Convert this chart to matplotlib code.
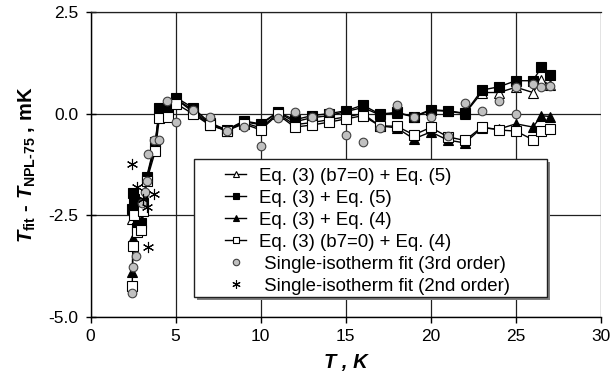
import matplotlib
matplotlib.use('Agg')
import matplotlib.pyplot as plt
from matplotlib.patches import Rectangle

plt.rcParams['font.family'] = ['Liberation Sans', 'DejaVu Sans']
plt.rcParams['mathtext.fontset'] = 'custom'
plt.rcParams['mathtext.rm'] = 'Liberation Sans:bold'
plt.rcParams['mathtext.it'] = 'Liberation Sans:bold:italic'
plt.rcParams['mathtext.bf'] = 'Liberation Sans:bold'

# Temperatures (K) for the four fitted-equation series
temps = [2.45, 2.5, 2.55, 2.75, 2.95, 3.1, 3.3, 3.8, 4.05, 4.55, 5.05,
         6, 7, 8, 9, 10, 11, 12, 13, 14, 15, 16, 17, 18, 19, 20, 21, 22,
         23, 24, 25, 26, 26.5, 27]

# Eq. (3) (b7=0) + Eq. (5)
eq3b_eq5 = [-2.6, -2.3, -2.0, -2.65, -2.6, -2.2, -1.6, -0.8, 0.1, 0.12, 0.35,
            0.1, -0.25, -0.4, -0.2, -0.27, 0.03, -0.2, -0.1, -0.05, 0.05, 0.15,
            -0.03, 0.02, -0.08, 0.08, 0.06, 0.0, 0.52, 0.52, 0.65, 0.52, 0.83, 0.7]
# Eq. (3) + Eq. (5)
eq3_eq5 = [-2.35, -1.95, -2.1, -2.8, -2.7, -2.2, -1.55, -0.7, 0.13, 0.11, 0.39,
           0.15, -0.22, -0.4, -0.18, -0.25, 0.04, -0.15, -0.05, 0.0, 0.07, 0.21,
           -0.01, 0.03, -0.07, 0.1, 0.07, 0.01, 0.58, 0.66, 0.81, 0.81, 1.14, 0.94]
# Eq. (3) + Eq. (4)
eq3_eq4 = [-3.9, -3.05, -2.4, -2.85, -2.75, -2.3, -1.6, -0.75, 0.1, 0.1, 0.35,
           0.05, -0.27, -0.42, -0.22, -0.35, 0.0, -0.27, -0.22, -0.15, -0.08, 0.0,
           -0.3, -0.35, -0.62, -0.45, -0.65, -0.72, -0.35, -0.38, -0.25, -0.33, -0.05, -0.07]
# Eq. (3) (b7=0) + Eq. (4)
eq3b_eq4 = [-4.25, -3.25, -2.5, -2.9, -2.85, -2.4, -1.65, -0.93, -0.1, -0.09, 0.24,
            0.0, -0.28, -0.42, -0.25, -0.4, -0.02, -0.33, -0.28, -0.21, -0.13, -0.05,
            -0.3, -0.31, -0.52, -0.34, -0.57, -0.66, -0.33, -0.4, -0.43, -0.64, -0.43, -0.38]

# Single-isotherm fit (3rd order)
iso3_t = [2.45, 2.5, 2.7, 3.0, 3.2, 3.3, 3.4, 3.75, 4.05, 4.5, 5.05,
          6, 7, 8, 9, 10, 11, 12, 13, 14, 15, 16, 17, 18, 19, 20, 21, 22,
          23, 24, 25, 25, 26, 26.5, 27]
iso3_v = [-4.4, -3.78, -3.5, -2.2, -1.93, -1.65, -0.98, -0.66, -0.66, 0.32, -0.21,
          0.1, -0.09, -0.42, -0.32, -0.8, -0.11, 0.05, -0.09, 0.03, -0.52, -0.69,
          -0.36, 0.22, -0.07, -0.07, -0.54, 0.26, 0.07, 0.3, 0.0, 0.65, 0.73, 0.66, 0.68]

# Single-isotherm fit (2nd order)
iso2_t = [2.42, 2.75, 3.1, 3.3, 3.4, 3.73]
iso2_v = [-1.24, -1.81, -2.1, -2.3, -3.28, -1.97]

labels = ['Eq. (3) (b7=0) + Eq. (5)', 'Eq. (3) + Eq. (5)', 'Eq. (3) + Eq. (4)',
          'Eq. (3) (b7=0) + Eq. (4)', ' Single-isotherm fit (3rd order)',
          ' Single-isotherm fit (2nd order)']

fig = plt.figure(figsize=(6.1, 3.82), dpi=100)
ax = fig.add_axes([0.1484, 0.1702, 0.8368, 0.7984])

line_kw = dict(color='black', linewidth=1.0, markeredgecolor='black',
               markeredgewidth=0.8, zorder=3)
ax.plot(temps, eq3b_eq5, marker='^', markersize=6.5, markerfacecolor='white',
        label=labels[0], **line_kw)
ax.plot(temps, eq3_eq5, marker='s', markersize=6.5, markerfacecolor='black',
        label=labels[1], **line_kw)
ax.plot(temps, eq3_eq4, marker='^', markersize=6.5, markerfacecolor='black',
        label=labels[2], **line_kw)
ax.plot(temps, eq3b_eq4, marker='s', markersize=6.5, markerfacecolor='white',
        label=labels[3], **line_kw)
ax.plot(iso3_t, iso3_v, linestyle='none', marker='o', markersize=6.2,
        markerfacecolor='#c0c0c0', markeredgecolor='#404040', markeredgewidth=0.8,
        label=labels[4], zorder=4)
ax.plot(iso2_t, iso2_v, linestyle='none', marker=(6, 2, 0), markersize=8,
        color='black', markeredgewidth=0.8, label=labels[5], zorder=4)

ax.set_xlim(0, 30)
ax.set_ylim(-5.0, 2.5)
ax.set_xticks([0, 5, 10, 15, 20, 25, 30])
ax.set_yticks([-5.0, -2.5, 0.0, 2.5])
ax.set_yticklabels(['-5.0', '-2.5', '0.0', '2.5'])

ax.grid(True, color='#202020', linewidth=0.9, zorder=0)
ax.set_axisbelow(True)
ax.spines['right'].set_visible(False)
ax.spines['top'].set_color('#202020')
ax.spines['top'].set_linewidth(0.9)
ax.spines['left'].set_linewidth(1.0)
ax.spines['bottom'].set_linewidth(1.0)
ax.tick_params(axis='x', direction='out', length=4, width=1.0, labelsize=12.5, pad=5)
ax.tick_params(axis='y', direction='inout', length=7, width=1.0, labelsize=12.5, pad=5)

ax.set_xlabel('T , K', fontsize=14.5, fontweight='bold', style='italic', labelpad=6)
ax.set_ylabel(r'$T_{\mathrm{fit}}$ - $T_{\mathrm{NPL\text{-}75}}$ , mK',
              fontsize=14.5, fontweight='bold', labelpad=8)

# legend frame with shadow
x0, x1 = 0.2027, 0.894
y0, y1 = 0.0656, 0.518
ax.add_patch(Rectangle((x0 + 0.006, y0 - 0.010), x1 - x0, y1 - y0,
                       transform=ax.transAxes, facecolor='#808080',
                       edgecolor='none', zorder=5))
ax.add_patch(Rectangle((x0, y0), x1 - x0, y1 - y0, transform=ax.transAxes,
                       facecolor='white', edgecolor='#202020', linewidth=1.0,
                       zorder=6))

leg = ax.legend(loc='upper left', bbox_to_anchor=(0.2459, 0.52), frameon=False,
                borderpad=0, fontsize=13.4, labelspacing=0.27, handlelength=1.1,
                handletextpad=0.7, markerscale=0.75)
leg.set_zorder(7)

fig.savefig('out.png', dpi=100)
